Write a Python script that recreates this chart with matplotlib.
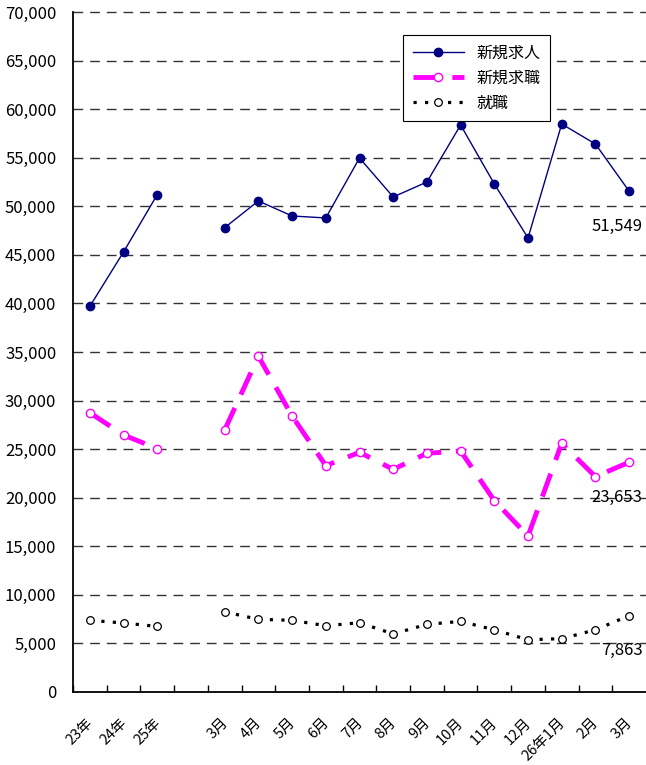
import numpy as np
import matplotlib
matplotlib.use('Agg')
import matplotlib.pyplot as plt
import matplotlib.transforms as mtransforms
from matplotlib.ticker import FuncFormatter, FixedLocator

plt.rcParams['font.family'] = ['Noto Sans CJK JP', 'DejaVu Sans']

# data (None = blank category between annual and monthly values)
labels = ['23年', '24年', '25年', '', '3月', '4月', '5月', '6月', '7月', '8月',
          '9月', '10月', '11月', '12月', '26年1月', '2月', '3月']
kyujin = [39700, 45300, 51200, None, 47800, 50550, 49000, 48800, 54970, 50960,
          52500, 58370, 52300, 46740, 58470, 56410, 51549]
kyushoku = [28750, 26460, 25050, None, 26970, 34560, 28410, 23300, 24670, 22920,
            24570, 24810, 19700, 16060, 25600, 22170, 23653]
shushoku = [7380, 7100, 6750, None, 8250, 7480, 7380, 6820, 7130, 5980,
            6960, 7270, 6400, 5380, 5490, 6400, 7863]
series_names = ['新規求人', '新規求職', '就職']


def arr(v):
    return np.array([np.nan if x is None else x for x in v], dtype=float)


x = np.arange(len(labels))

fig = plt.figure(figsize=(6.46, 7.65), dpi=100)
ax = fig.add_axes([73 / 646, 73 / 765, 573 / 646, 680 / 765])

# grid lines
for yv in range(5000, 70001, 5000):
    ax.axhline(yv, color='#333333', lw=1.0, dashes=(7, 5), zorder=1, clip_on=False)

ax.plot(x, arr(kyujin), color='#000080', lw=1.0, marker='o', ms=6,
        mfc='#000080', mec='#000080', label=series_names[0], zorder=4)
ax.plot(x, arr(kyushoku), color='#FF00FF', lw=3.5, dashes=(5, 3), marker='o',
        ms=6, mfc='white', mec='#FF00FF', mew=1.0, label=series_names[1], zorder=3)
ax.plot(x, arr(shushoku), color='black', lw=2.3, dashes=(1, 2.6), marker='o',
        ms=5.5, mfc='white', mec='black', mew=0.9, label=series_names[2], zorder=3)

# last value labels
for vals in (kyujin, kyushoku, shushoku):
    ax.text(x[-1] + 0.4, vals[-1] - 3600, f'{vals[-1]:,}', ha='right', va='center',
            fontsize=12)

ax.set_xlim(-0.5, len(labels) - 0.5)
ax.set_ylim(0, 70000)
ax.yaxis.set_major_locator(FixedLocator(range(0, 70001, 5000)))
ax.yaxis.set_major_formatter(FuncFormatter(lambda v, p: f'{int(v):,}'))
ax.tick_params(axis='y', direction='in', length=0, pad=12, labelsize=12)

ax.set_xticks(x - 0.5)
ax.set_xticklabels([])
ax.set_xticks(x, minor=True)
ax.set_xticklabels(labels, minor=True, rotation=45, ha='right', rotation_mode='anchor')
ax.tick_params(axis='x', which='major', direction='in', length=5, width=1)
ax.tick_params(axis='x', which='minor', length=0, pad=17, labelsize=10.5)
shift = mtransforms.ScaledTranslation(-4 / 100, 0, fig.dpi_scale_trans)
for lab in ax.xaxis.get_minorticklabels():
    lab.set_transform(lab.get_transform() + shift)

for s in ('top', 'right'):
    ax.spines[s].set_visible(False)
ax.spines['left'].set_linewidth(1.3)
ax.spines['bottom'].set_linewidth(1.3)

leg = ax.legend(loc='upper left', bbox_to_anchor=(403 / 646, 1 - 35 / 765),
                bbox_transform=fig.transFigure, fancybox=False, framealpha=1,
                edgecolor='black', fontsize=11.5, handlelength=3.2,
                borderpad=0.6, labelspacing=0.5, borderaxespad=0)
leg.get_frame().set_linewidth(0.8)

fig.savefig('out.png', dpi=100)
